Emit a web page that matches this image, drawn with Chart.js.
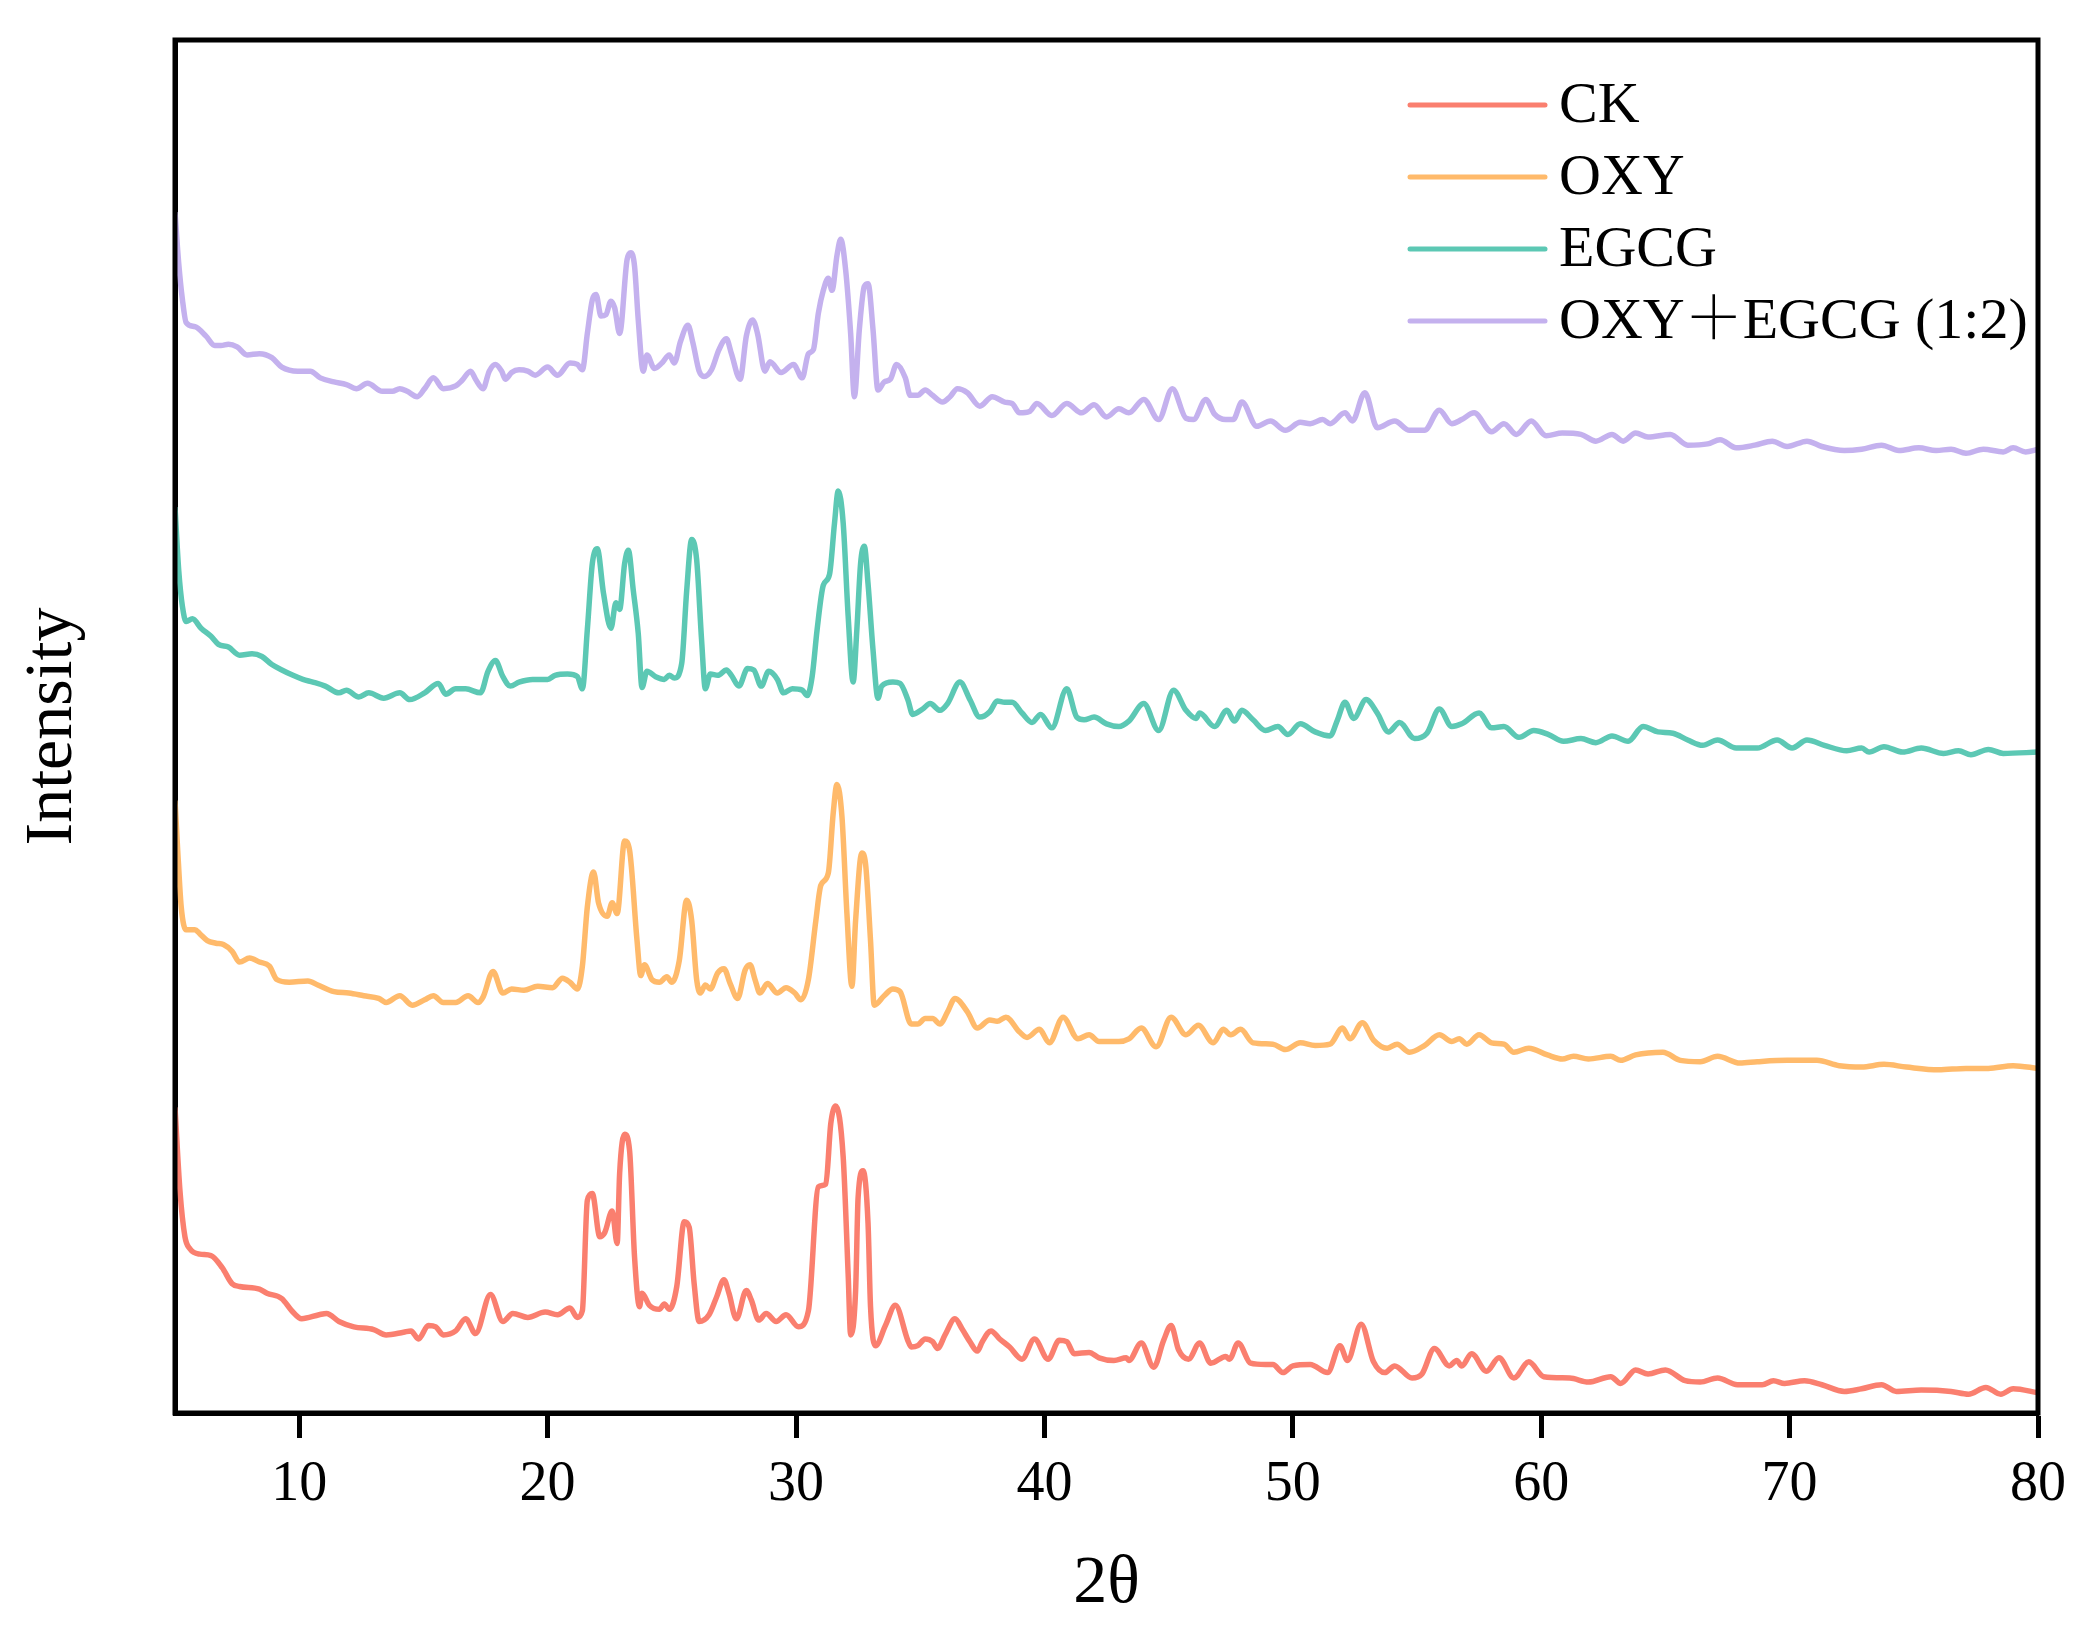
<!DOCTYPE html>
<html>
<head>
<meta charset="utf-8">
<script src="https://cdn.jsdelivr.net/npm/chart.js@4"></script>
<style>
  html, body { margin: 0; padding: 0; background: #fff; }
  #wrap { width: 2099px; height: 1644px; }
</style>
</head>
<body>
<div id="wrap"><canvas id="xrd"></canvas></div>
<script>
// Data: [2θ, intensity (arbitrary, curves already offset)]
const seriesNames = ['CK', 'OXY', 'EGCG', 'OXY\uFF0BEGCG (1:2)'];
const xTickValues = [10, 20, 30, 40, 50, 60, 70, 80];

const ck = [
  [5.0,232],[5.2,170],[5.4,136],[5.6,127],[6.0,123],[6.45,122],[6.9,113],[7.3,101],[7.6,99],[8.4,97],[8.7,94],[9.3,90],[9.7,81],[10.1,75],[10.8,78],[11.1,79],[11.6,73],[12.2,69],[13.0,67],[13.5,63],[14.2,65],[14.5,66],[14.8,60],[15.2,70],[15.5,69],[15.8,63],[16.3,66],[16.7,75],[17.1,64],[17.7,93],[18.2,73],[18.6,79],[19.2,76],[19.9,80],[20.4,78],[20.9,83],[21.2,76],[21.4,81],[21.6,163],[21.8,168],[22.1,136],[22.3,139],[22.6,155],[22.8,131],[22.9,183],[23.1,212],[23.3,200],[23.5,121],[23.7,84],[23.8,94],[24.1,85],[24.5,82],[24.7,86],[24.9,82],[25.2,99],[25.5,147],[25.7,143],[25.9,101],[26.1,73],[26.5,78],[26.8,91],[27.1,104],[27.3,94],[27.6,75],[28.0,96],[28.2,89],[28.5,74],[28.8,79],[29.2,73],[29.6,78],[30.1,69],[30.5,81],[30.9,173],[31.2,175],[31.4,220],[31.6,233],[31.9,195],[32.1,108],[32.2,63],[32.4,96],[32.5,165],[32.7,185],[32.9,146],[33.0,84],[33.2,55],[33.6,70],[34.0,85],
  [34.5,59],[34.64,54],[34.9,55],[35.2,60],[35.5,58],[35.7,53],[36.0,63],[36.4,75],[36.7,67],[37.0,58],[37.3,51],[37.5,58],[37.85,66],[38.2,60],[38.6,54],[39.1,45],[39.6,60],[40.15,45],[40.6,59],[40.9,58],[41.2,49],[41.8,50],[42.2,46],[42.8,44],[43.3,46],[43.4,44],[43.9,57],[44.4,39],[44.8,59],[45.1,70],[45.4,52],[45.8,45],[46.25,57],[46.7,42],[47.3,47],[47.45,45],[47.8,57],[48.3,42],[48.9,41],[49.2,41],[49.6,35],[50.0,40],[50.7,41],[51.4,35],[51.9,55],[52.2,44],[52.75,71],[53.25,43],[53.7,35],[54.1,40],[54.8,31],[55.2,34],[55.7,53],[56.3,40],[56.6,44],[56.8,40],[57.2,49],[57.8,36],[58.3,46],[58.9,31],[59.5,43],[60.1,32],[61.15,31],[61.9,28],[62.8,32],[63.2,27],[63.8,37],[64.3,34],[65.0,37],[65.8,29],[66.4,28],[67.1,31],[67.9,26],[68.9,26],[69.35,29],[69.8,27],[70.6,29],[71.3,26],[72.2,21],[72.9,23],[73.7,26],[74.3,21],[75.3,22],[76.5,21],[77.2,19],[77.9,24],[78.5,19],[79.0,23],[80.0,20]
];

const oxy = [
  [5.0,460],[5.1,426],[5.25,381],[5.45,364],[5.8,364],[6.0,361],[6.3,356],[6.65,354],[6.95,353],[7.3,348],[7.6,340],[8.0,343],[8.4,340],[8.8,337],[9.1,327],[9.6,325],[10.35,326],[10.75,323],[11.4,318],[12.0,317],[12.6,315],[13.2,313],[13.5,310],[14.05,315],[14.55,308],[15.05,312],[15.4,315],[15.8,310],[16.3,310],[16.8,315],[17.2,310],[17.4,314],[17.8,333],[18.2,317],[18.55,320],[19.05,319],[19.6,322],[20.2,321],[20.6,328],[20.9,325],[21.2,320],[21.4,337],[21.6,381],[21.85,407],[22.05,384],[22.4,374],[22.6,384],[22.8,376],[23.1,430],[23.3,423],[23.6,356],[23.75,330],[23.9,338],[24.2,327],[24.5,325],[24.8,329],[25.0,325],[25.3,341],[25.6,386],[25.8,371],[26.0,327],[26.15,317],[26.35,323],[26.55,320],[26.85,332],[27.1,335],[27.35,324],[27.65,313],[27.95,334],[28.15,338],[28.35,327],[28.55,317],[28.85,324],[29.25,317],[29.6,321],[29.95,317],[30.2,312],[30.5,327],[30.8,371],[31.0,397],[31.3,406],[31.5,451],[31.65,472],[31.85,448],[32.05,376],[32.25,322],[32.4,371],[32.65,421],[32.8,413],[33.0,356],[33.15,308],[33.55,315],[33.9,320],
  [34.19,318],[34.64,294],[34.9,294],[35.2,298],[35.5,298],[35.8,294],[36.1,303],[36.4,313],[36.9,303],[37.3,291],[37.8,297],[38.1,296],[38.45,299],[39.0,288],[39.3,284],[39.8,290],[40.2,280],[40.75,299],[41.35,283],[41.8,286],[42.2,281],[43.0,281],[43.4,283],[43.9,291],[44.5,277],[45.1,299],[45.7,286],[46.2,293],[46.8,280],[47.2,290],[47.5,286],[47.9,290],[48.4,280],[49.2,279],[49.7,275],[50.3,280],[50.9,278],[51.5,279],[52.0,291],[52.3,283],[52.8,295],[53.25,282],[53.8,276],[54.2,279],[54.7,273],[55.3,278],[55.9,286],[56.4,281],[56.7,283],[57.0,279],[57.5,286],[58.0,280],[58.5,279],[58.9,273],[59.5,276],[60.25,271],[60.85,268],[61.3,270],[61.9,268],[62.8,270],[63.2,267],[63.8,271],[64.9,273],[65.6,267],[66.4,266],[67.1,270],[68.0,265],[68.7,266],[69.9,267],[71.1,267],[72.0,263],[72.9,262],[73.8,264],[74.7,262],[76.0,260],[77.1,261],[78.0,261],[79.0,263],[80.0,261]
];

const egcg = [
  [5.0,678],[5.15,631],[5.3,604],[5.45,593],[5.7,595],[6.05,588],[6.45,582],[6.75,576],[7.15,574],[7.6,568],[8.1,569],[8.5,567],[8.9,561],[9.3,557],[9.75,553],[10.15,550],[10.55,548],[11.05,545],[11.6,540],[11.9,542],[12.4,537],[12.8,540],[13.4,536],[14.05,540],[14.45,535],[15.05,540],[15.6,547],[15.9,539],[16.3,543],[16.7,543],[17.3,540],[17.6,556],[17.9,564],[18.2,552],[18.5,545],[18.85,548],[19.4,550],[20.0,550],[20.3,553],[20.8,554],[21.2,552],[21.4,543],[21.6,587],[21.8,636],[22.0,647],[22.25,614],[22.55,588],[22.75,607],[22.9,602],[23.1,636],[23.25,646],[23.45,616],[23.65,584],[23.8,544],[24.0,556],[24.35,552],[24.7,550],[24.9,553],[25.1,551],[25.4,562],[25.6,616],[25.8,654],[26.0,639],[26.2,579],[26.35,543],[26.55,554],[26.85,553],[27.2,557],[27.4,553],[27.7,545],[28.05,558],[28.3,557],[28.6,545],[28.9,556],[29.25,550],[29.5,540],[29.85,543],[30.25,542],[30.45,538],[30.65,552],[30.85,587],[31.1,620],[31.35,628],[31.55,666],[31.7,690],[31.9,666],[32.1,597],[32.3,548],[32.45,587],[32.6,636],[32.75,649],[32.9,621],[33.1,572],[33.3,536],[33.45,545],[33.9,548],
  [34.19,547],[34.5,535],[34.7,524],[35.1,528],[35.4,532],[35.8,527],[36.1,532],[36.6,548],[37.0,535],[37.4,522],[37.8,526],[38.1,534],[38.4,533],[38.7,533],[39.1,525],[39.5,518],[39.85,524],[40.3,514],[40.9,543],[41.3,522],[41.6,520],[42.0,522],[42.5,517],[43.0,515],[43.4,519],[44.0,532],[44.6,512],[45.2,542],[45.7,527],[46.1,521],[46.25,525],[46.85,515],[47.35,527],[47.65,519],[47.95,527],[48.4,520],[48.9,512],[49.4,515],[49.8,509],[50.3,517],[50.9,511],[51.5,508],[51.8,520],[52.1,533],[52.45,521],[52.95,535],[53.4,525],[53.85,511],[54.3,518],[54.9,506],[55.4,510],[55.9,528],[56.4,515],[56.8,517],[57.5,525],[58.0,514],[58.5,515],[59.1,507],[59.7,512],[60.3,509],[60.9,504],[61.6,506],[62.2,503],[62.85,508],[63.5,504],[64.1,515],[64.7,511],[65.3,510],[65.9,505],[66.5,501],[67.1,505],[67.85,499],[68.7,499],[69.5,505],[70.1,499],[70.7,505],[71.4,501],[72.3,497],[72.9,499],[73.2,496],[73.8,500],[74.55,496],[75.3,499],[76.2,495],[76.8,497],[77.3,494],[78.0,498],[78.6,495],[80.0,496]
];

const oxyEgcg = [
  [5.0,897],[5.15,859],[5.3,832],[5.45,815],[5.8,812],[6.25,805],[6.6,798],[6.85,798],[7.15,799],[7.5,797],[7.9,791],[8.4,792],[8.9,789],[9.3,782],[9.95,779],[10.45,779],[10.85,774],[11.4,771],[11.9,769],[12.3,766],[12.75,770],[13.35,764],[13.75,764],[14.05,766],[14.35,764],[14.75,760],[15.05,766],[15.4,774],[15.8,766],[16.3,768],[16.55,772],[16.9,779],[17.1,773],[17.4,766],[17.65,779],[17.9,784],[18.15,779],[18.3,773],[18.55,778],[18.85,780],[19.2,779],[19.5,776],[20.0,782],[20.4,776],[20.9,785],[21.2,784],[21.4,780],[21.6,807],[21.8,832],[21.95,836],[22.15,820],[22.35,821],[22.55,831],[22.7,826],[22.9,807],[23.2,862],[23.35,867],[23.5,857],[23.65,817],[23.85,779],[24.0,791],[24.3,781],[24.6,785],[24.9,791],[25.1,785],[25.35,801],[25.65,813],[25.85,800],[26.1,779],[26.3,775],[26.6,780],[26.9,795],[27.2,803],[27.4,792],[27.75,773],[28.0,805],[28.25,817],[28.45,807],[28.75,779],[28.95,786],[29.4,778],[29.9,784],[30.25,774],[30.5,792],[30.7,795],[30.9,822],[31.1,839],[31.3,848],[31.45,839],[31.65,865],[31.8,877],[32.0,854],[32.2,807],[32.35,760],[32.55,810],[32.75,842],[32.9,844],[33.1,810],[33.3,765],[33.55,771],[33.8,773],[34.05,784],
  [34.4,774],[34.6,761],[34.9,761],[35.2,765],[35.5,761],[35.9,756],[36.2,760],[36.5,766],[36.9,763],[37.4,753],[37.9,760],[38.4,756],[38.7,755],[39.0,748],[39.4,749],[39.7,755],[40.3,746],[40.9,755],[41.5,748],[42.0,754],[42.5,745],[43.0,751],[43.4,748],[44.0,758],[44.6,743],[45.15,766],[45.7,744],[46.0,743],[46.5,758],[46.85,747],[47.3,743],[47.6,743],[47.95,756],[48.55,738],[49.1,742],[49.7,735],[50.3,741],[50.7,740],[51.2,743],[51.5,740],[52.1,748],[52.4,742],[52.9,763],[53.4,737],[54.1,742],[54.7,735],[55.3,735],[55.9,750],[56.4,740],[56.8,743],[57.3,748],[58.0,734],[58.5,740],[59.0,732],[59.6,742],[60.2,731],[60.85,733],[61.6,732],[62.2,727],[62.85,732],[63.3,727],[63.8,733],[64.3,730],[65.2,732],[65.9,724],[66.7,725],[67.2,728],[67.85,722],[68.6,724],[69.3,727],[69.9,723],[70.7,727],[71.3,723],[72.2,720],[72.9,721],[73.7,724],[74.4,720],[75.2,722],[75.9,720],[76.5,721],[77.1,718],[77.8,721],[78.6,719],[79.0,722],[79.5,719],[80.0,721]
];

const seriesColors = ['#FA7F6F', '#FFBA6B', '#5CC8B4', '#C4B1EE'];
const serif = '"Liberation Serif", "Times New Roman", "Noto Serif CJK SC", "Noto Sans CJK SC", serif';

// box round the plot area
const framePlugin = {
    id: 'frame',
    afterDraw(chart) {
        const {ctx, chartArea: a} = chart;
        ctx.save();
        ctx.strokeStyle = '#000';
        ctx.lineWidth = 5;
        ctx.strokeRect(a.left, a.top, a.right - a.left, a.bottom - a.top);
        ctx.restore();
    }
};

// legend top right, line + label
const legendPlugin = {
    id: 'lineLegend',
    afterDraw(chart) {
        const {ctx, chartArea: a} = chart;
        const x0 = a.right - 628;
        const lineLen = 135;
        ctx.save();
        ctx.font = '58px ' + serif;
        ctx.textBaseline = 'middle';
        ctx.lineCap = 'round';
        chart.data.datasets.forEach((ds, i) => {
            const y = a.top + 65 + i * 72;
            ctx.strokeStyle = ds.borderColor;
            ctx.lineWidth = 5;
            ctx.beginPath();
            ctx.moveTo(x0, y);
            ctx.lineTo(x0 + lineLen, y);
            ctx.stroke();
            ctx.fillStyle = '#000';
            ctx.fillText(ds.label, x0 + lineLen + 14, y + 2);
        });
        ctx.restore();
    }
};

const allSeries = [ck, oxy, egcg, oxyEgcg];

new Chart(document.getElementById('xrd').getContext('2d'), {
    type: 'line',
    data: {
        datasets: allSeries.map((pts, i) => ({
            label: seriesNames[i],
            data: pts.map(p => ({x: p[0], y: p[1]})),
            borderColor: seriesColors[i],
            borderWidth: 5.5,
            pointRadius: 0,
            cubicInterpolationMode: 'monotone',
            fill: false
        }))
    },
    options: {
        responsive: true,
        maintainAspectRatio: false,
        devicePixelRatio: 1,
        animation: false,
        layout: { padding: { top: 40, right: 61, left: 0, bottom: 0 } },
        plugins: {
            legend: { display: false },
            tooltip: { enabled: false }
        },
        scales: {
            x: {
                type: 'linear',
                min: 5,
                max: 80,
                afterBuildTicks: scale => { scale.ticks = xTickValues.map(v => ({value: v})); },
                afterFit: scale => { scale.height = 231; },
                grid: { drawOnChartArea: false, drawTicks: true, tickLength: 25, tickWidth: 5, tickColor: '#000' },
                border: { display: true, width: 5, color: '#000' },
                ticks: { color: '#000', padding: 14, maxRotation: 0, font: { family: serif, size: 56 } },
                title: { display: true, text: '2\u03B8', color: '#000', padding: { top: 0, bottom: 19 }, font: { family: serif, size: 68 } }
            },
            y: {
                min: 5,
                max: 1025,
                afterFit: scale => { scale.width = 175; },
                grid: { drawOnChartArea: false, drawTicks: false },
                border: { display: true, width: 5, color: '#000' },
                ticks: { display: false },
                title: { display: true, text: 'Intensity', color: '#000', padding: { top: 12, bottom: 0 }, font: { family: serif, size: 68 } }
            }
        }
    },
    plugins: [framePlugin, legendPlugin]
});
</script>
</body>
</html>
